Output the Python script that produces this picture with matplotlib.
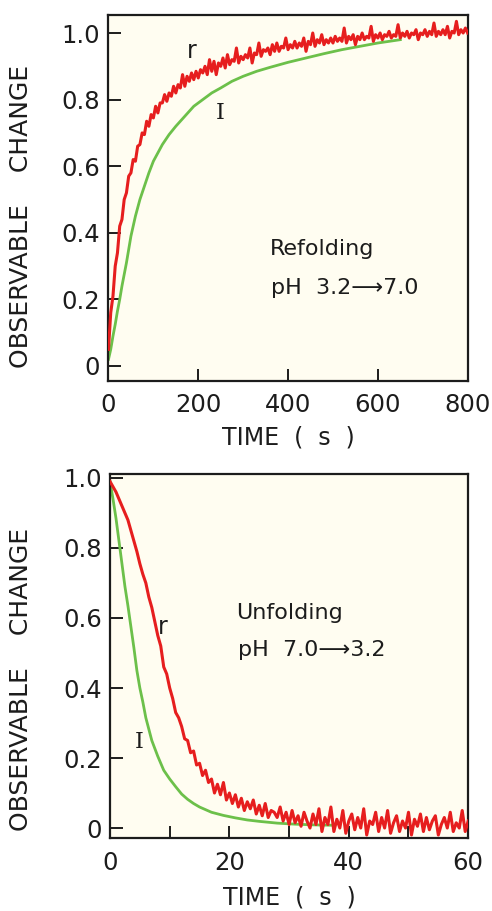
import numpy as np
import matplotlib
matplotlib.use("Agg")
import matplotlib.pyplot as plt
from matplotlib.ticker import FixedLocator, FixedFormatter

# ---- refolding (pH 3.2 -> 7.0), time in s ----
refold_t_r = np.arange(0, 805, 5)
refold_r = [
    0.05, 0.16, 0.21, 0.30, 0.34, 0.42, 0.44, 0.50, 0.52, 0.57,
    0.58, 0.62, 0.615, 0.66, 0.665, 0.70, 0.695, 0.735, 0.72, 0.755,
    0.745, 0.78, 0.76, 0.79, 0.79, 0.815, 0.795, 0.82, 0.81, 0.84,
    0.82, 0.845, 0.835, 0.875, 0.84, 0.87, 0.855, 0.88, 0.86, 0.885,
    0.865, 0.89, 0.88, 0.90, 0.875, 0.92, 0.885, 0.915, 0.875, 0.91,
    0.90, 0.925, 0.895, 0.935, 0.905, 0.92, 0.915, 0.955, 0.91, 0.93,
    0.92, 0.935, 0.925, 0.955, 0.91, 0.94, 0.935, 0.97, 0.93, 0.95,
    0.945, 0.955, 0.935, 0.965, 0.945, 0.97, 0.945, 0.96, 0.955, 0.985,
    0.95, 0.965, 0.955, 0.975, 0.955, 0.97, 0.96, 0.985, 0.945, 0.975,
    0.965, 1.0, 0.96, 0.98, 0.97, 0.995, 0.965, 0.98, 0.97, 0.985,
    0.97, 0.99, 0.975, 0.985, 0.975, 1.015, 0.97, 0.99, 0.98, 0.995,
    0.965, 0.99, 0.98, 1.0, 0.98, 0.99, 0.985, 1.02, 0.975, 0.995,
    0.985, 1.0, 0.98, 0.995, 0.99, 1.005, 0.985, 0.995, 0.99, 1.025,
    0.985, 1.0, 0.99, 1.005, 0.985, 1.0, 0.995, 1.01, 0.98, 1.0,
    0.995, 1.01, 0.99, 1.005, 0.995, 1.03, 0.99, 1.005, 0.995, 1.01,
    0.995, 1.02, 0.985, 1.005, 1.0, 1.035, 0.995, 1.01, 1.0, 1.015,
    1.0,
]
refold_t_i = [0, 5, 10, 15, 20, 25, 30, 35, 40, 45, 50, 60, 70, 80, 90, 100,
              110, 120, 135, 150, 170, 190, 210, 230, 250, 275, 300, 330,
              360, 400, 440, 480, 520, 560, 600, 650]
refold_i = [0.02, 0.05, 0.09, 0.125, 0.165, 0.20, 0.24, 0.275, 0.31, 0.35,
            0.39, 0.45, 0.50, 0.54, 0.58, 0.615, 0.64, 0.665, 0.695, 0.72,
            0.75, 0.78, 0.80, 0.82, 0.835, 0.855, 0.87, 0.885, 0.897, 0.912,
            0.925, 0.938, 0.95, 0.96, 0.97, 0.98]

# ---- unfolding (pH 7.0 -> 3.2), time in s ----
unfold_t_r = np.arange(0, 60.5, 0.5)
unfold_r = [
    0.99, 0.975, 0.96, 0.94, 0.92, 0.90, 0.88, 0.85, 0.82, 0.79,
    0.755, 0.725, 0.70, 0.66, 0.63, 0.59, 0.55, 0.52, 0.46, 0.44,
    0.40, 0.37, 0.33, 0.315, 0.29, 0.255, 0.25, 0.215, 0.22, 0.18,
    0.185, 0.15, 0.165, 0.13, 0.14, 0.10, 0.125, 0.095, 0.13, 0.08,
    0.10, 0.07, 0.095, 0.06, 0.085, 0.05, 0.075, 0.055, 0.08, 0.04,
    0.065, 0.035, 0.07, 0.03, 0.05, 0.045, 0.03, 0.06, 0.02, 0.045,
    0.01, 0.05, 0.015, 0.035, 0.005, 0.045, 0.02, 0.0, 0.04, 0.01,
    0.055, -0.01, 0.03, 0.01, 0.06, -0.01, 0.025, 0.0, 0.05, -0.015,
    0.02, 0.04, -0.005, 0.03, 0.0, 0.055, -0.02, 0.02, 0.01, 0.045,
    -0.01, 0.03, 0.0, 0.05, -0.015, 0.015, 0.035, -0.01, 0.02, 0.0,
    0.045, -0.02, 0.025, 0.005, 0.04, -0.01, 0.03, -0.005, 0.02, 0.035,
    -0.02, 0.01, 0.03, 0.0, 0.045, -0.01, 0.015, 0.0, 0.05, -0.01,
    0.02,
]
unfold_t_i = [0, 0.5, 1, 1.5, 2, 2.5, 3, 3.5, 4, 4.5, 5, 5.5, 6, 7, 8, 9, 10,
              11, 12, 13, 14, 15, 17, 19, 21, 23, 25, 28, 31, 34, 37]
unfold_i = [0.99, 0.94, 0.885, 0.82, 0.755, 0.69, 0.635, 0.575, 0.515, 0.45,
            0.40, 0.36, 0.315, 0.25, 0.205, 0.165, 0.14, 0.118, 0.097, 0.082,
            0.07, 0.06, 0.045, 0.036, 0.029, 0.023, 0.019, 0.014, 0.011,
            0.009, 0.008]

RED = "#e61e1e"
GREEN = "#6cc04a"
BG = "#fffdf1"
INK = "#1c1c1c"

plt.rcParams['font.family'] = ['DejaVu Sans']

fig = plt.figure(figsize=(4.92, 9.11), dpi=100)
ytick_vals = [0, 0.2, 0.4, 0.6, 0.8, 1.0]
ytick_text = ["0", "0.2", "0.4", "0.6", "0.8", "1.0"]


def style(ax):
    ax.set_facecolor(BG)
    for s in ax.spines.values():
        s.set_linewidth(1.6)
        s.set_color(INK)
    ax.tick_params(which='both', direction='in', length=9, width=1.4,
                   color=INK, labelcolor=INK, labelsize=17.5)
    ax.tick_params(axis='x', pad=9)
    ax.tick_params(axis='y', pad=6)
    ax.yaxis.set_major_locator(FixedLocator(ytick_vals))
    ax.yaxis.set_major_formatter(FixedFormatter(ytick_text))


# top panel
ax1 = fig.add_axes([0.2205, 0.5818, 0.730, 0.4017])
style(ax1)
ax1.plot(refold_t_i, refold_i, color=GREEN, lw=2.0, zorder=2)
ax1.plot(refold_t_r, refold_r, color=RED, lw=2.2, zorder=3)
ax1.set_xlim(0, 800)
ax1.set_ylim(-0.045, 1.054)
ax1.set_xticks([0, 200, 400, 600, 800])
ax1.set_xlabel("TIME  (  s  )", fontsize=17, color=INK, labelpad=6)
ax1.set_ylabel("OBSERVABLE    CHANGE", fontsize=18, color=INK)
ax1.yaxis.set_label_coords(-0.21, 0.45)
ax1.text(186, 0.945, "r", fontsize=17, color=INK, ha='center', va='center')
ax1.text(249, 0.76, "I", fontsize=16, color=INK, ha='center', va='center',
         family='DejaVu Serif')
ax1.text(359, 0.35, "Refolding", fontsize=16, color=INK, va='center')
ax1.text(362, 0.233, "pH  3.2\u27f67.0", fontsize=16, color=INK, va='center')

# bottom panel
ax2 = fig.add_axes([0.2236, 0.0801, 0.728, 0.3996])
style(ax2)
ax2.plot(unfold_t_i, unfold_i, color=GREEN, lw=2.0, zorder=2)
ax2.plot(unfold_t_r, unfold_r, color=RED, lw=2.2, zorder=3)
ax2.set_xlim(0, 60)
ax2.set_ylim(-0.0286, 1.0114)
ax2.set_xticks([0, 20, 40, 60])
ax2.set_xticks([10, 30, 50], minor=True)
ax2.set_xlabel("TIME  (  s  )", fontsize=17, color=INK, labelpad=8)
ax2.set_ylabel("OBSERVABLE    CHANGE", fontsize=18, color=INK)
ax2.yaxis.set_label_coords(-0.215, 0.437)
ax2.text(8.9, 0.575, "r", fontsize=17, color=INK, ha='center', va='center')
ax2.text(4.9, 0.245, "I", fontsize=16, color=INK, ha='center', va='center',
         family='DejaVu Serif')
ax2.text(21.1, 0.614, "Unfolding", fontsize=16, color=INK, va='center')
ax2.text(21.4, 0.508, "pH  7.0\u27f63.2", fontsize=16, color=INK, va='center')

fig.savefig("out.png", dpi=100, facecolor='white')
